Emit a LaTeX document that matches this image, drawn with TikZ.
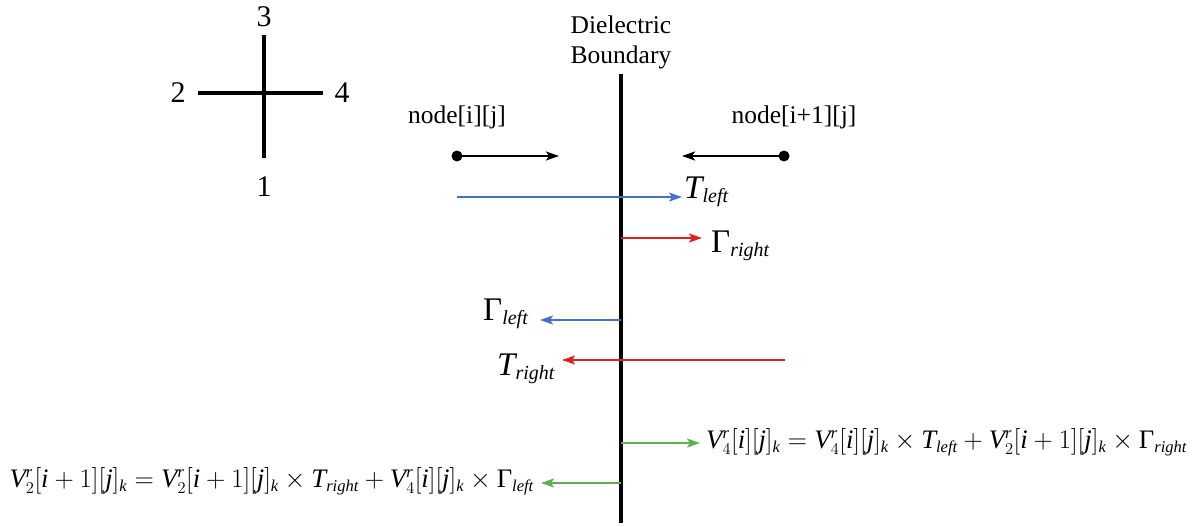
\RequirePackage{fix-cm}
\documentclass[tikz,border=0pt]{standalone}
\usepackage{fontspec}
\setmainfont{Liberation Serif}
\usetikzlibrary{arrows.meta}
\definecolor{cblue}{RGB}{68,114,196}
\definecolor{cred}{RGB}{226,30,30}
\definecolor{cgreen}{RGB}{92,176,80}
\DeclareMathSizes{33}{33}{20}{15}
\DeclareMathSizes{26.7}{26.7}{16.5}{12}
\newcommand{\mv}[1]{\mathit{#1}}
\newcommand{\Gm}{\mbox{Γ}}
\newcommand{\Vr}[1]{\mv{V}_{#1}^{\mv{r}}}
\begin{document}
\begin{tikzpicture}[x=1pt,y=-1pt,
  axis/.style={line width=3.2pt},
  txt/.style={font=\fontsize{25.5}{30}\selectfont, inner sep=0},
  num/.style={font=\fontsize{30}{36}\selectfont, inner sep=0},
  lab/.style={font=\fontsize{33}{40}\selectfont, inner sep=0},
  eqn/.style={font=\fontsize{26.7}{30}\selectfont, inner sep=0},
  arr/.style={line width=1.9pt, -{Stealth[length=13pt,width=9pt,inset=3pt]}},
  dot/.style={circle, fill=black, inner sep=0, minimum size=11pt}]
\useasboundingbox (0,0) rectangle (1202,527);
% port cross
\coordinate (c3) at (264,35);
\coordinate (c1) at (264,158);
\coordinate (c2) at (198,93);
\coordinate (c4) at (323,93);
\draw[axis] (c3) -- (c1);
\draw[axis] (c2) -- (c4);
\node[num] (n3) at (264,17) {3};
\node[num] (n1) at (264,187) {1};
\node[num] (n2) at (178,93) {2};
\node[num] (n4) at (342,93) {4};
% boundary
\coordinate (btop) at (621,74);
\coordinate (bbot) at (621,523);
\draw[axis] (btop) -- (bbot);
\node[txt] (d1) at (621,25) {Dielectric};
\node[txt] (d2) at (621,57) {Boundary};
% nodes
\node[txt] (lnode) at (457,117) {node[i][j]};
\node[txt] (rnode) at (794,117) {node[i+1][j]};
\node[dot] (ldot) at (457,156) {};
\node[dot] (rdot) at (784,156) {};
\coordinate (la) at (559,156);
\coordinate (ra) at (682,156);
\draw[arr] (ldot.center) -- (la);
\draw[arr] (rdot.center) -- (ra);
% T left
\coordinate (tl0) at (457,197);
\coordinate (tl1) at (682,197);
\draw[arr, cblue] (tl0) -- (tl1);
\node[lab, anchor=base west] (tl) at (684,198) {$\mv{T}_{\mv{left}}$};
% Gamma right
\coordinate (gr0) at (621,238);
\coordinate (gr1) at (702,238);
\draw[arr, cred] (gr0) -- (gr1);
\node[lab, anchor=base west] (gr) at (711,252) {$\Gm_{\mv{right}}$};
% Gamma left
\coordinate (gl0) at (621,320);
\coordinate (gl1) at (540,320);
\draw[arr, cblue] (gl0) -- (gl1);
\node[lab, anchor=base west] (gl) at (483,320) {$\Gm_{\mv{left}}$};
% T right
\coordinate (trr0) at (785,360);
\coordinate (trr1) at (562,360);
\draw[arr, cred] (trr0) -- (trr1);
\node[lab, anchor=base west] (trr) at (497,375) {$\mv{T}_{\mv{right}}$};
% green
\coordinate (g10) at (621,443);
\coordinate (g11) at (700,443);
\draw[arr, cgreen] (g10) -- (g11);
\node[eqn, anchor=base west] (eq1) at (706,448) {$\Vr{4}[\mv{i}][\mv{j}]_{\mv{k}} = \Vr{4}[\mv{i}][\mv{j}]_{\mv{k}} \times \mv{T}_{\mv{left}} + \Vr{2}[\mv{i}+1][\mv{j}]_{\mv{k}} \times \Gm_{\mv{right}}$};
\coordinate (g20) at (621,483);
\coordinate (g21) at (541,483);
\draw[arr, cgreen] (g20) -- (g21);
\node[eqn, anchor=base east] (eq2) at (534,487) {$\Vr{2}[\mv{i}+1][\mv{j}]_{\mv{k}} = \Vr{2}[\mv{i}+1][\mv{j}]_{\mv{k}} \times \mv{T}_{\mv{right}} + \Vr{4}[\mv{i}][\mv{j}]_{\mv{k}} \times \Gm_{\mv{left}}$};
\end{tikzpicture}
\end{document}
